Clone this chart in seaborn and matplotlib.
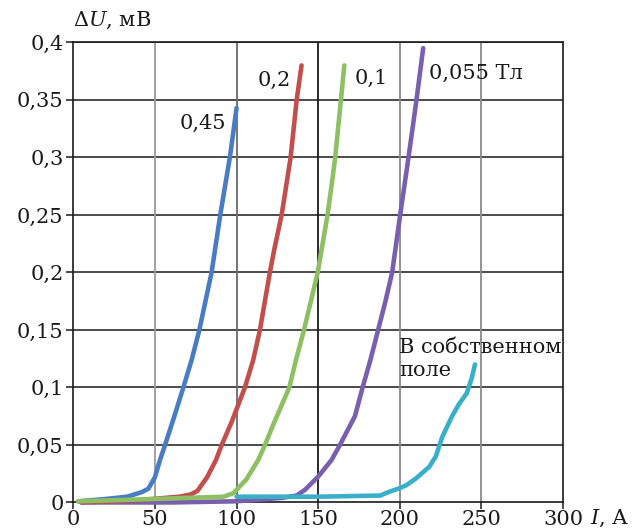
import matplotlib
matplotlib.use("Agg")
import matplotlib.pyplot as plt
import seaborn as sns
import pandas as pd

# Current I (A) vs voltage drop dU (mV) at different magnetic fields
blue_x = [3, 20, 33, 42, 46, 50, 53.1, 56.2, 61.9, 67.4, 72.5, 77.2, 84.7, 90, 96, 100]
blue_y = [0.001, 0.003, 0.005, 0.009, 0.012, 0.022, 0.037, 0.05, 0.075, 0.1, 0.124, 0.15, 0.2, 0.25, 0.301, 0.343]

red_x = [5, 40, 65, 72, 76, 82, 87.4, 90.9, 97, 105.1, 110.2, 114.3, 120.4, 123.1, 127.6, 133.1, 136.8, 139.8]
red_y = [0.0, 0.002, 0.005, 0.007, 0.010, 0.022, 0.037, 0.05, 0.07, 0.1, 0.124, 0.15, 0.2, 0.22, 0.25, 0.3, 0.35, 0.38]

green_x = [3, 50, 92, 98, 106, 113.3, 117.4, 122, 132.3, 136.4, 141.3, 149.7, 155.7, 158.6, 160.4, 163.9, 166]
green_y = [0.001, 0.003, 0.005, 0.008, 0.02, 0.037, 0.05, 0.066, 0.1, 0.124, 0.15, 0.2, 0.25, 0.28, 0.3, 0.35, 0.38]

purple_x = [5, 60, 100, 128, 136.8, 141.9, 150, 158.2, 163.3, 172.5, 177.2, 182, 186.7, 191.2, 195.3, 200.2, 205.3, 210.2, 214.3]
purple_y = [0.0, 0.0, 0.001, 0.004, 0.006, 0.011, 0.0225, 0.037, 0.05, 0.075, 0.1, 0.124, 0.15, 0.175, 0.2, 0.25, 0.3, 0.35, 0.395]

cyan_x = [100, 150, 188, 193, 200, 204, 210, 218, 222, 226, 232, 236, 241, 244, 246]
cyan_y = [0.005, 0.005, 0.006, 0.009, 0.0125, 0.015, 0.021, 0.031, 0.04, 0.057, 0.075, 0.085, 0.095, 0.108, 0.12]

x_ticks = [0, 50, 100, 150, 200, 250, 300]
x_tick_labels = ["0", "50", "100", "150", "200", "250", "300"]
y_ticks = [0, 0.05, 0.1, 0.15, 0.2, 0.25, 0.3, 0.35, 0.4]
y_tick_labels = ["0", "0,05", "0,1", "0,15", "0,2", "0,25", "0,3", "0,35", "0,4"]

sns.set_theme(style="white")
plt.rcParams["font.family"] = ["DejaVu Serif"]
plt.rcParams["mathtext.fontset"] = "dejavuserif"

fig = plt.figure(figsize=(6.32, 5.30), dpi=100)
ax = fig.add_axes([0.116, 0.052, 0.775, 0.868])

# grid
for yv in y_ticks[1:]:
    ax.axhline(yv, color="#1a1a1a", lw=1.1, zorder=1)
vcolors = {50: "#9a9a9a", 100: "#6a6a6a", 150: "#1a1a1a", 200: "#8a8a8a", 250: "#8a8a8a"}
for xv, c in vcolors.items():
    ax.axvline(xv, color=c, lw=1.3, zorder=1)

series = [
    (purple_x, purple_y, "#7a5fae"),
    (blue_x, blue_y, "#4a7cc4"),
    (red_x, red_y, "#c24f4c"),
    (green_x, green_y, "#8dc063"),
    (cyan_x, cyan_y, "#3aafca"),
]
for xs, ys, col in series:
    df = pd.DataFrame({"I": xs, "dU": ys})
    sns.lineplot(data=df, x="I", y="dU", sort=False, color=col, lw=3.3,
                 ax=ax, zorder=3, solid_capstyle="round", solid_joinstyle="round",
                 clip_on=False)

FS = 15
ax.set_xlim(0, 300)
ax.set_ylim(0, 0.4)
ax.set_xticks(x_ticks)
ax.set_xticklabels(x_tick_labels)
ax.set_yticks(y_ticks)
ax.set_yticklabels(y_tick_labels)
ax.set_xlabel("")
ax.set_ylabel("")
ax.tick_params(axis="both", which="both", direction="out", length=5, width=1.1,
               color="#1a1a1a", labelsize=FS, labelcolor="#1a1a1a", pad=2,
               left=True, bottom=True)
ax.tick_params(axis="x", pad=0.3)
for s in ax.spines.values():
    s.set_color("#1a1a1a")
    s.set_linewidth(1.2)

tkw = dict(fontsize=FS, color="#1a1a1a", zorder=4)
ax.text(93.5, 0.33, "0,45", ha="right", va="center", **tkw)
ax.text(133.2, 0.367, "0,2", ha="right", va="center", **tkw)
ax.text(172.0, 0.369, "0,1", ha="left", va="center", **tkw)
ax.text(218.0, 0.373, "0,055 Тл", ha="left", va="center", **tkw)
ax.text(199.5, 0.135, "В собственном", ha="left", va="center", **tkw)
ax.text(199.5, 0.115, "поле", ha="left", va="center", **tkw)

fig.text(73 / 632, 1 - 20 / 530, r"$\Delta \mathit{U}$, мВ", ha="left", va="center",
         fontsize=FS, color="#1a1a1a")
fig.text(590 / 632, 1 - 518 / 530, r"$\mathit{I}$, А", ha="left", va="center",
         fontsize=FS, color="#1a1a1a")

fig.savefig("out.png", dpi=100, facecolor="white")
